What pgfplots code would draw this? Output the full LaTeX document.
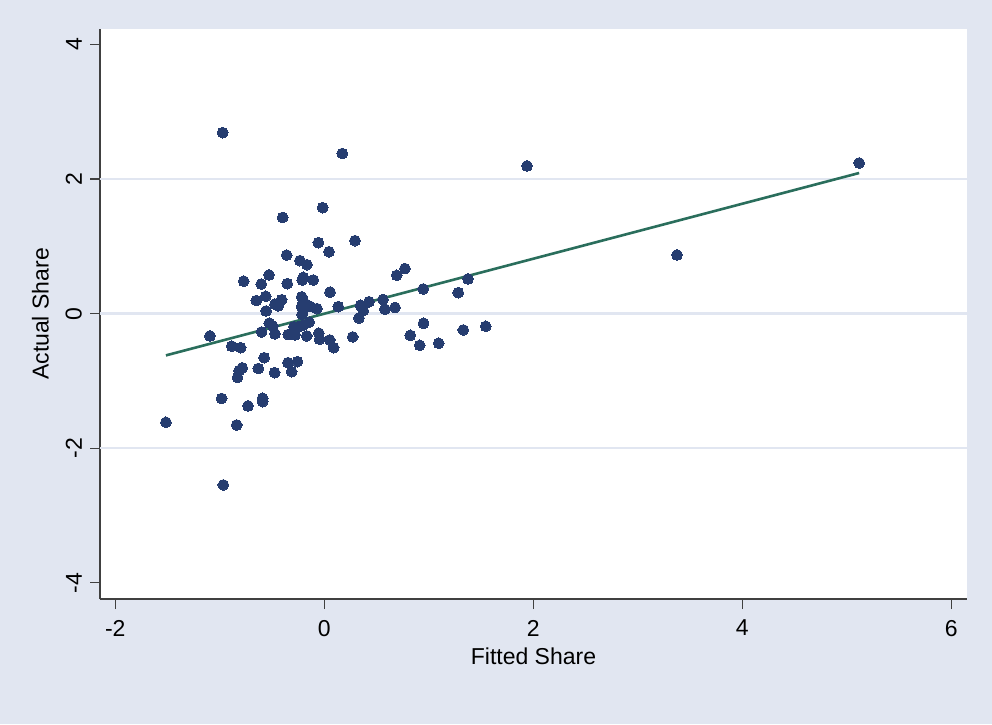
\documentclass[border=0pt]{standalone}
\usepackage{pgfplots}
\pgfplotsset{compat=1.18}
\usepackage{fontspec}
\setmainfont{Liberation Sans}
\definecolor{bgc}{RGB}{225,230,241}
\definecolor{gridc}{RGB}{225,230,241}
\definecolor{dotc}{RGB}{38,61,112}
\definecolor{linec}{RGB}{42,110,92}
\begin{document}
\fontsize{11.5}{13.5}\selectfont
\begin{tikzpicture}
\fill[bgc] (0,0) rectangle (496pt,362pt);
\begin{axis}[
  at={(50pt,62.5pt)}, anchor=south west,
  width=433.5pt, height=285pt, scale only axis,
  xmin=-2.146, xmax=6.15, ymin=-4.24, ymax=4.23,
  axis background/.style={fill=white},
  axis lines*=left,
  axis line style={black!75, line width=0.6pt},
  xtick={-2,0,2,4,6}, ytick={-4,-2,0,2,4},
  tick align=outside, major tick length=5pt,
  tick style={black!75, line width=0.6pt},
  /pgf/number format/assume math mode=true,
  ticklabel style={font=\fontsize{11.5}{13.5}\selectfont},
  xticklabel style={yshift=-1.5pt},
  yticklabel style={rotate=90, anchor=south},
  extra y ticks={-2,0,2},
  extra y tick labels={},
  extra y tick style={grid=major, major tick length=0pt},
  major grid style={gridc, line width=1.2pt},
  xlabel={Fitted Share}, ylabel={Actual Share},
  label style={font=\fontsize{11.5}{13.5}\selectfont},
  xlabel style={yshift=2pt},
  ylabel style={yshift=-4.5pt},
  clip=false,
]
\addplot[only marks, color=dotc, mark=*, mark size=2.7pt, mark options={fill=dotc, draw=dotc, line width=0pt}] coordinates {
(-0.972,2.69) (0.172,2.38) (-0.015,1.575) (-0.398,1.43) (-0.057,1.055)
(0.294,1.085) (0.045,0.92) (-0.36,0.87) (-0.233,0.788) (-0.166,0.728)
(-0.529,0.575) (-0.771,0.483) (-0.603,0.44) (-0.354,0.446) (-0.21,0.50)
(-0.20,0.54) (-0.105,0.50) (0.055,0.32) (-0.65,0.195) (-0.56,0.258)
(-0.408,0.207) (-0.472,0.142) (-0.44,0.117) (-0.216,0.25) (-0.20,0.19)
(-0.216,0.104) (-0.20,0.055) (-0.137,0.110) (-0.07,0.075) (-0.557,0.04)
(0.134,0.104) (0.347,0.125) (0.373,0.045) (0.428,0.178) (0.562,0.21)
(0.58,0.067) (0.677,0.092) (0.332,-0.065) (-0.212,-0.01) (-0.145,-0.127)
(-0.526,-0.14) (-0.494,-0.183) (-0.60,-0.272) (-0.472,-0.30) (-1.094,-0.331)
(-0.886,-0.483) (-0.80,-0.505) (-0.345,-0.31) (-0.28,-0.316) (-0.29,-0.195)
(-0.24,-0.19) (-0.20,-0.17) (-0.168,-0.331) (-0.052,-0.29) (-0.045,-0.38)
(0.052,-0.39) (0.09,-0.505) (0.272,-0.345) (-0.575,-0.654) (-0.785,-0.805)
(-0.815,-0.847) (-0.83,-0.95) (-0.632,-0.815) (-0.475,-0.877) (-0.347,-0.728)
(-0.257,-0.713) (-0.312,-0.862) (-0.982,-1.26) (-0.73,-1.37) (-0.59,-1.257)
(-0.59,-1.307) (-1.515,-1.614) (-0.838,-1.654) (-0.966,-2.545) (0.693,0.57)
(0.772,0.67) (0.947,0.367) (1.282,0.312) (1.375,0.516) (0.95,-0.143)
(1.33,-0.242) (1.545,-0.188) (0.823,-0.322) (0.913,-0.47) (1.095,-0.44)
(1.94,2.195) (5.118,2.239) (3.375,0.872)
};
\addplot[linec, line width=1.3pt] coordinates {(-1.515,-0.62) (5.118,2.09)};
\end{axis}
\end{tikzpicture}
\end{document}
